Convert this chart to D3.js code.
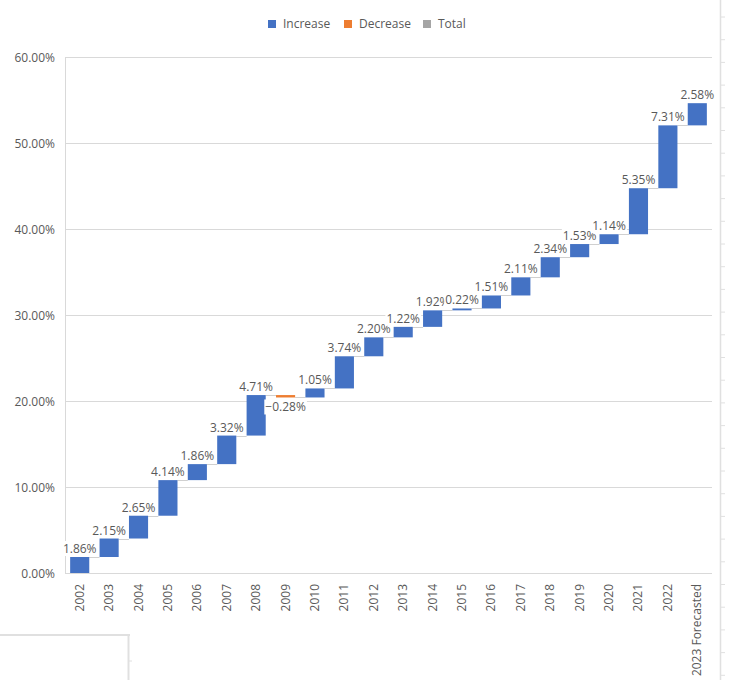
<!DOCTYPE html>
<html>
<head>
<meta charset="utf-8">
<script src="https://cdn.jsdelivr.net/npm/d3@7"></script>
<style>
  html, body { margin: 0; padding: 0; background: #fff; }
  svg { display: block; font-family: "Open Sans", "Noto Sans", sans-serif; }
</style>
</head>
<body>
<svg id="chart" width="732" height="680"></svg>
<script>
const categories = ["2002","2003","2004","2005","2006","2007","2008","2009","2010","2011","2012","2013","2014","2015","2016","2017","2018","2019","2020","2021","2022","2023 Forecasted"];
const changes = [1.86, 2.15, 2.65, 4.14, 1.86, 3.32, 4.71, -0.28, 1.05, 3.74, 2.20, 1.22, 1.92, 0.22, 1.51, 2.11, 2.34, 1.53, 1.14, 5.35, 7.31, 2.58];
const yTicks = [0, 10, 20, 30, 40, 50, 60];
const legendLabels = ["Increase", "Decrease", "Total"];
const legendColors = ["#4472C4", "#ED7D31", "#A5A5A5"];

(function () {
const svg = d3.select("#chart");
const textColor = "#595959";
const gridColor = "#D9D9D9";

// build waterfall table
const rows = [];
let run = 0;
changes.forEach((v, i) => {
  const start = run;
  run = run + v;
  rows.push({ cat: categories[i], v, start, end: run });
});

const pLeft = 65, pRight = 712, pTop = 57, pBottom = 573;
const x = d3.scaleBand().domain(categories).range([pLeft, pRight]).paddingInner(0.35).paddingOuter(0.175);
const y = d3.scaleLinear().domain([0, 60]).range([pBottom, pTop]);

// gridlines
svg.append("g").selectAll("line").data(yTicks).join("line")
  .attr("x1", pLeft).attr("x2", pRight)
  .attr("y1", d => Math.round(y(d)) + 0.5).attr("y2", d => Math.round(y(d)) + 0.5)
  .attr("stroke", gridColor).attr("stroke-width", 1);
// left axis line
svg.append("line").attr("x1", pLeft + 0.5).attr("x2", pLeft + 0.5)
  .attr("y1", y(60)).attr("y2", y(0) + 0.5).attr("stroke", gridColor);

// y tick labels
svg.append("g").selectAll("text").data(yTicks).join("text")
  .attr("x", pLeft - 10).attr("y", d => y(d) + 2)
  .attr("text-anchor", "end").attr("dominant-baseline", "middle")
  .attr("font-size", 12).attr("fill", textColor)
  .text(d => d3.format(".2f")(d) + "%");

// x labels
svg.append("g").selectAll("text").data(categories).join("text")
  .attr("transform", d => `translate(${x(d) + x.bandwidth() / 2 + 4},${pBottom + 11}) rotate(-90)`)
  .attr("text-anchor", "end")
  .attr("font-size", 12).attr("fill", textColor)
  .text(d => d);

// connectors
svg.append("g").selectAll("line").data(rows.slice(0, -1)).join("line")
  .attr("x1", d => x(d.cat) + x.bandwidth())
  .attr("x2", (d, i) => x(rows[i + 1].cat))
  .attr("y1", d => Math.round(y(d.end)) + 0.5).attr("y2", d => Math.round(y(d.end)) + 0.5)
  .attr("stroke", "#D0D0D0").attr("stroke-width", 1);

// bars
svg.append("g").selectAll("rect").data(rows).join("rect")
  .attr("x", d => x(d.cat))
  .attr("width", x.bandwidth())
  .attr("y", d => y(Math.max(d.start, d.end)))
  .attr("height", d => Math.max(1.5, Math.abs(y(d.start) - y(d.end))))
  .attr("fill", d => d.v >= 0 ? legendColors[0] : legendColors[1]);

// labels with white background
const lg = svg.append("g");
rows.forEach(d => {
  const cx = x(d.cat) + x.bandwidth() / 2;
  const ty = d.v >= 0 ? y(d.end) - 4 : y(d.end) + 14;
  const g = lg.append("g");
  const t = g.append("text")
    .attr("x", cx).attr("y", ty)
    .attr("text-anchor", "middle")
    .attr("font-size", 12).attr("fill", textColor)
    .text(d3.format(".2f")(d.v) + "%");
  const bb = t.node().getBBox();
  g.insert("rect", "text")
    .attr("x", bb.x - 1).attr("y", bb.y + 1)
    .attr("width", bb.width + 2).attr("height", bb.height - 2)
    .attr("fill", "#fff");
});

// legend
const legend = svg.append("g");
const legendX = [268, 344, 423];
legendLabels.forEach((l, i) => {
  legend.append("rect").attr("x", legendX[i]).attr("y", 20).attr("width", 8).attr("height", 8)
    .attr("fill", legendColors[i]);
  legend.append("text").attr("x", legendX[i] + 15).attr("y", 25)
    .attr("dominant-baseline", "middle").attr("font-size", 12).attr("fill", textColor)
    .text(l);
});

// spreadsheet frame artifacts
const deco = svg.append("g").attr("stroke", "#E0E0E0");
deco.append("line").attr("x1", 720.5).attr("x2", 720.5).attr("y1", 0).attr("y2", 680).attr("stroke-width", 1.5);
d3.range(17, 680, 22.7).forEach(t => {
  deco.append("line").attr("x1", 721).attr("x2", 725).attr("y1", t).attr("y2", t);
});
deco.append("line").attr("x1", 0).attr("x2", 130).attr("y1", 635).attr("y2", 635).attr("stroke-width", 2);
deco.append("line").attr("x1", 128.5).attr("x2", 128.5).attr("y1", 635).attr("y2", 680).attr("stroke-width", 2);
deco.append("line").attr("x1", 129).attr("x2", 132).attr("y1", 661).attr("y2", 661);
})();
</script>
</body>
</html>
